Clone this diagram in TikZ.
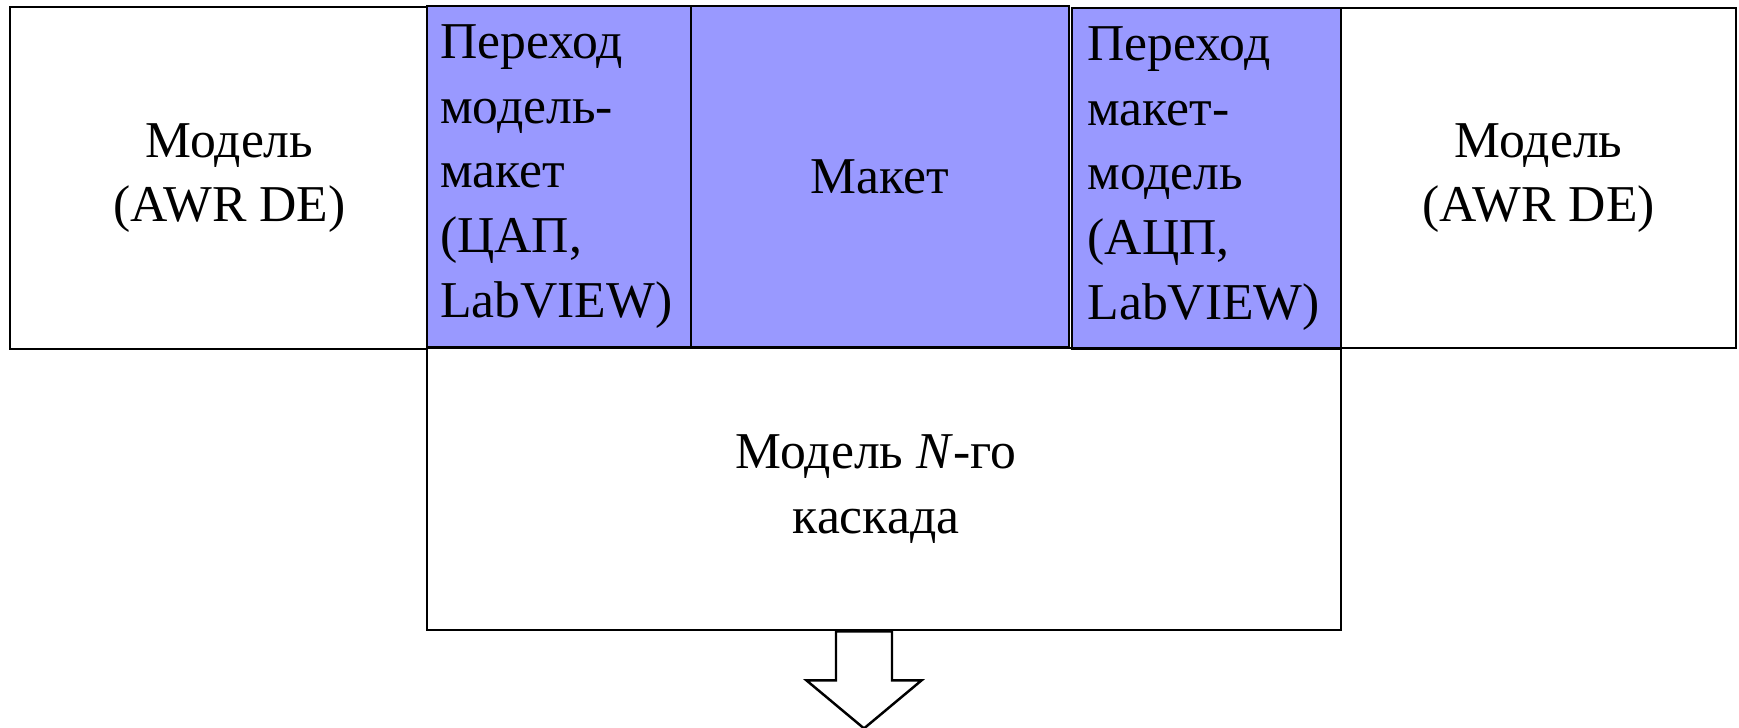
\documentclass[tikz,border=0pt]{standalone}
\usepackage{fontspec}
\setmainfont{Liberation Serif}
\definecolor{lav}{RGB}{153,153,255}

\begin{document}
\begin{tikzpicture}[font=\fontsize{14.7}{18.4}\selectfont,
    box/.style={rectangle,draw,line width=0.8pt,inner sep=0pt,align=center},
    conv/.style={box,fill=lav,align=left,text width=2.38cm},
    txt/.style={align=center,inner sep=0pt}]
    \useasboundingbox (0,0) rectangle (17.39,-7.28);

    \node[box,minimum width=4.17cm,minimum height=3.42cm] at (2.185,-1.78) (m1) {};
    \node[txt] at ([xshift=0.11cm]m1.center) (m1t) {Модель\\(AWR DE)};
    \node[conv,minimum width=2.64cm,minimum height=3.41cm] at (5.59,-1.765) (dac) {Переход\\модель-\\макет\\(ЦАП,\\LabVIEW)};
    \node[box,fill=lav,minimum width=3.78cm,minimum height=3.41cm] at (8.80,-1.765) (mk) {Макет};
    \node[conv,minimum width=2.69cm,minimum height=3.41cm] at (12.065,-1.785) (adc) {Переход\\макет-\\модель\\(АЦП,\\LabVIEW)};
    \node[box,minimum width=3.95cm,minimum height=3.40cm] at (15.385,-1.78) (m2) {Модель\\(AWR DE)};
    \node[box,minimum width=9.14cm,minimum height=2.82cm] at (8.84,-4.89) (casc) {};
    \node[txt] at ([xshift=-0.08cm]casc.center) (casct) {Модель \textit{N}-го\\каскада};

    % block arrow below the cascade
    \coordinate (out) at (8.64,0);
    \draw[line width=0.7pt,fill=white] (casc.south -| out) ++(-0.28,0) -- ++(0,-0.49) -- ++(-0.295,0)
        -- ++(0.575,-0.48) -- ++(0.575,0.48) -- ++(-0.295,0) -- ++(0,0.49) -- cycle;
\end{tikzpicture}
\end{document}
